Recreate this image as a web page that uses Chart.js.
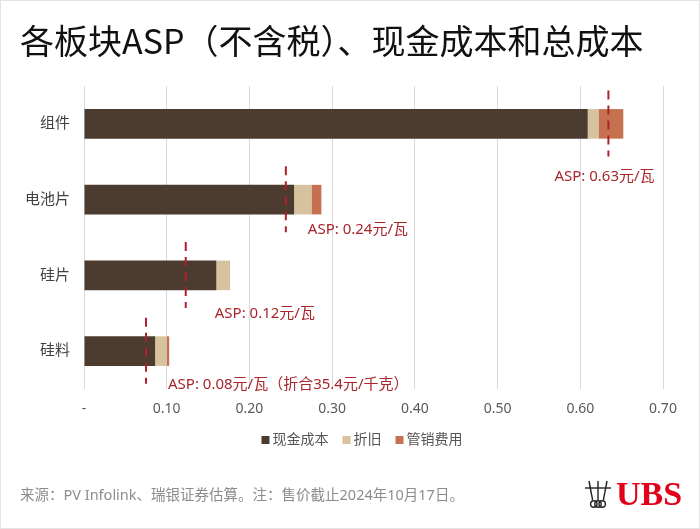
<!DOCTYPE html>
<html>
<head>
<meta charset="utf-8">
<script src="https://cdn.jsdelivr.net/npm/chart.js@4"></script>
<style>
  html, body { margin: 0; padding: 0; background: #fff; }
  #wrap { width: 700px; height: 529px; position: relative; }
</style>
</head>
<body>
<div id="wrap"><canvas id="costChart" width="700" height="529"></canvas></div>
<script>
const categories = ['组件', '电池片', '硅片', '硅料'];
const cashCost = [0.609, 0.254, 0.160, 0.086];
const depreciation = [0.013, 0.021, 0.015, 0.014];
const sgaCost = [0.030, 0.012, 0.001, 0.003];
const aspValues = [0.634, 0.244, 0.123, 0.075];
const aspLabels = ['ASP: 0.63元/瓦', 'ASP: 0.24元/瓦', 'ASP: 0.12元/瓦', 'ASP: 0.08元/瓦（折合35.4元/千克）'];
const xTickLabels = ['-', '0.10', '0.20', '0.30', '0.40', '0.50', '0.60', '0.70'];
const seriesNames = ['现金成本', '折旧', '管销费用'];
const seriesColors = ['#4c3b2f', '#d6c29f', '#c5704f'];

const FONT = "'Noto Sans', 'Noto Sans CJK SC', sans-serif";
const CJK = "'Noto Sans CJK SC', sans-serif";

// label placement relative to each ASP line (px)
const labelOffsets = [[-54, 53], [22, 30], [29, 38], [22, 34]];

const decorations = {
  id: 'decorations',
  afterDraw(chart) {
    const c = chart.ctx;
    const x = chart.scales.x, y = chart.scales.y;
    c.save();

    // title
    c.fillStyle = '#111';
    c.font = '400 34px ' + CJK;
    c.textBaseline = 'middle';
    c.textAlign = 'left';
    c.fillText('各板块ASP（不含税）、现金成本和总成本', 20, 41);

    // ASP dashed markers and labels
    const step = Math.abs(y.getPixelForValue(1) - y.getPixelForValue(0));
    aspValues.forEach((v, i) => {
      const px = x.getPixelForValue(v);
      const cy = y.getPixelForValue(i);
      c.strokeStyle = '#b0202a';
      c.lineWidth = 2;
      c.setLineDash([9, 6]);
      c.beginPath();
      c.moveTo(px, cy - step * 0.44);
      c.lineTo(px, cy + step * 0.43);
      c.stroke();
      c.setLineDash([]);
      c.fillStyle = '#a8262c';
      c.font = '15px ' + FONT;
      c.fillText(aspLabels[i], px + labelOffsets[i][0], cy + labelOffsets[i][1]);
    });

    // legend
    c.font = '14px ' + FONT;
    const widths = seriesNames.map(n => c.measureText(n).width);
    const total = widths.reduce((a, b) => a + b, 0) + seriesNames.length * 11 + (seriesNames.length - 1) * 14;
    let lx = 362 - total / 2;
    seriesNames.forEach((n, i) => {
      c.fillStyle = seriesColors[i];
      c.fillRect(lx, 436, 8, 8);
      c.fillStyle = '#555';
      c.fillText(n, lx + 11, 440);
      lx += 11 + widths[i] + 14;
    });

    // footer
    c.fillStyle = '#8c8c8c';
    c.font = '14.5px ' + FONT;
    c.fillText('来源：PV Infolink、瑞银证券估算。注：售价截止2024年10月17日。', 20, 496);

    // UBS logo
    c.fillStyle = '#e2001a';
    c.font = 'bold 34px "Liberation Serif", serif';
    c.fillText('UBS', 616, 496);
    c.strokeStyle = '#222';
    c.lineWidth = 1.4;
    [[589, 0.6], [598, 0], [607, -0.6]].forEach(([kx, tilt]) => {
      c.beginPath();
      c.moveTo(kx, 481);
      c.lineTo(kx + tilt * 6, 500);
      c.stroke();
      c.beginPath();
      c.arc(kx + tilt * 8, 504, 3.2, 0, Math.PI * 2);
      c.stroke();
    });
    c.beginPath();
    c.moveTo(585, 488); c.lineTo(611, 488);
    c.stroke();

    // outer frame
    c.strokeStyle = '#e3e3e3';
    c.lineWidth = 1;
    c.strokeRect(0.5, 0.5, 699, 528);
    c.restore();
  }
};

new Chart(document.getElementById('costChart'), {
  type: 'bar',
  data: {
    labels: categories,
    datasets: seriesNames.map((n, i) => ({
      label: n,
      data: [cashCost, depreciation, sgaCost][i],
      backgroundColor: seriesColors[i]
    }))
  },
  options: {
    indexAxis: 'y',
    responsive: false,
    animation: false,
    layout: { padding: { top: 86, left: 0, right: 37, bottom: 102 } },
    datasets: { bar: { categoryPercentage: 0.39, barPercentage: 1 } },
    plugins: {
      legend: { display: false },
      tooltip: { enabled: false }
    },
    scales: {
      x: {
        stacked: true,
        min: 0, max: 0.7,
        afterFit: s => { s.height = 38; },
        grid: { color: '#d9d9d9', drawTicks: false },
        border: { display: false },
        ticks: {
          stepSize: 0.1,
          padding: 12,
          color: '#5a5a5a',
          font: { size: 14, family: FONT },
          callback: (v, i) => xTickLabels[i]
        }
      },
      y: {
        stacked: true,
        afterFit: s => { s.width = 84; },
        grid: { display: false, drawTicks: false },
        border: { display: false },
        ticks: {
          padding: 14,
          color: '#404040',
          font: { size: 15, family: FONT }
        }
      }
    }
  },
  plugins: [decorations]
});
</script>
</body>
</html>
